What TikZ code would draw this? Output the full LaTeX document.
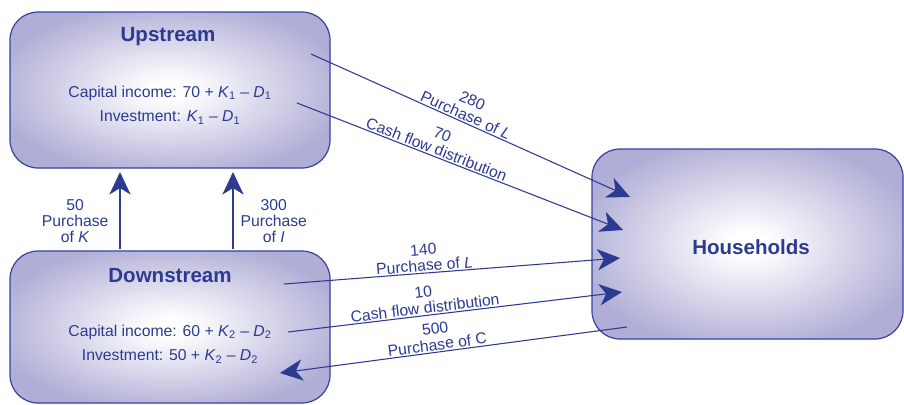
\documentclass[tikz,border=0pt]{standalone}
\usepackage{fontspec}
\setmainfont{Liberation Sans}
\usetikzlibrary{arrows.meta}

\definecolor{flowblue}{RGB}{44,58,146}
\definecolor{boxedge}{RGB}{52,66,156}
\definecolor{lavender}{RGB}{176,174,214}
\pgfdeclareradialshading{boxglow}{\pgfpoint{0bp}{0bp}}{color(0bp)=(white); color(3bp)=(white); color(28bp)=(lavender); color(50bp)=(lavender)}

\tikzset{
	sector/.style={draw=boxedge, line width=0.9pt, rounded corners=21pt, shade, shading=boxglow, inner sep=0pt},
	title/.style={text=flowblue, font=\fontsize{15.4}{18}\selectfont\bfseries},
	account/.style={text=flowblue, font=\fontsize{11.8}{18.6}\selectfont, align=center},
	flow/.style={draw=flowblue, line width=0.8pt, >={Stealth[length=17pt,width=16pt,inset=5pt]}},
	tag/.style={text=flowblue, font=\fontsize{11.8}{12}\selectfont, align=center, inner sep=1pt},
}

\begin{document}
\begin{tikzpicture}[x=0.75pt,y=-0.75pt]
		\useasboundingbox (0,0) rectangle (904,404);
		\clip (0,0) rectangle (904,404);
%		\draw[help lines] (0,0) grid[step=50] (904,404);
		\path (311,54) coordinate (up_wage);
		\path (630,197) coordinate (home_wage1);
		\path (297,103) coordinate (up_div);
		\path (623,230) coordinate (home_div1);
		\path (284,284) coordinate (down_wage);
		\path (620,258) coordinate (home_wage2);
		\path (288,332) coordinate (down_div);
		\path (622,292) coordinate (home_div2);
		\path (280,373) coordinate (down_cons);
		\path (627,327) coordinate (home_cons);
		\path (120,249) coordinate (down_k);
		\path (120,172) coordinate (up_k);
		\path (233,249) coordinate (down_i);
		\path (233,172) coordinate (up_i);

		% sectors
		\node[sector, minimum width=240pt, minimum height=117pt] (up) at (170,90) {};
		\node[sector, minimum width=240pt, minimum height=114pt] (down) at (170,327) {};
		\node[sector, minimum width=233.25pt, minimum height=142.5pt] (home) at (747.5,244) {};

		\node[title] (up_name) at (168,37) {Upstream};
		\node[account] (up_acct) at (170,105) {Capital income: 70 + \textit{K}\textsubscript{1} – \textit{D}\textsubscript{1}\\
			Investment: \textit{K}\textsubscript{1} – \textit{D}\textsubscript{1}};
		\node[title] (down_name) at (170,276) {Downstream};
		\node[account] (down_acct) at (170,344) {Capital income: 60 + \textit{K}\textsubscript{2} – \textit{D}\textsubscript{2}\\
			Investment: 50 + \textit{K}\textsubscript{2} – \textit{D}\textsubscript{2}};
		\node[title] (home_name) at (751,247) {Households};

		% flows between sectors
		\draw[flow,->] (down_k) -- node[tag, pos=0.36, anchor=east, xshift=-7.25pt] (k_tag) {50\\Purchase\\of \textit{K}} (up_k);
		\draw[flow,->] (down_i) -- node[tag, pos=0.36, anchor=west, xshift=4.25pt] (i_tag) {300\\Purchase\\of \textit{I}} (up_i);
		\draw[flow,->] (up_wage) -- node[tag, sloped, above, pos=0.476] (wage1_tag) {280\\Purchase of \textit{L}} (home_wage1);
		\draw[flow,->] (up_div) -- node[tag, sloped, above, pos=0.42] (div1_tag) {70\\Cash flow distribution} (home_div1);
		\draw[flow,->] (down_wage) -- node[tag, sloped, above, pos=0.42] (wage2_tag) {140\\Purchase of \textit{L}} (home_wage2);
		\draw[flow,->] (down_div) -- node[tag, sloped, above, pos=0.413] (div2_tag) {10\\Cash flow distribution} (home_div2);
		\draw[flow,<-] (down_cons) -- node[tag, sloped, above, pos=0.456] (cons_tag) {500\\Purchase of C} (home_cons);
	\end{tikzpicture}
\end{document}
